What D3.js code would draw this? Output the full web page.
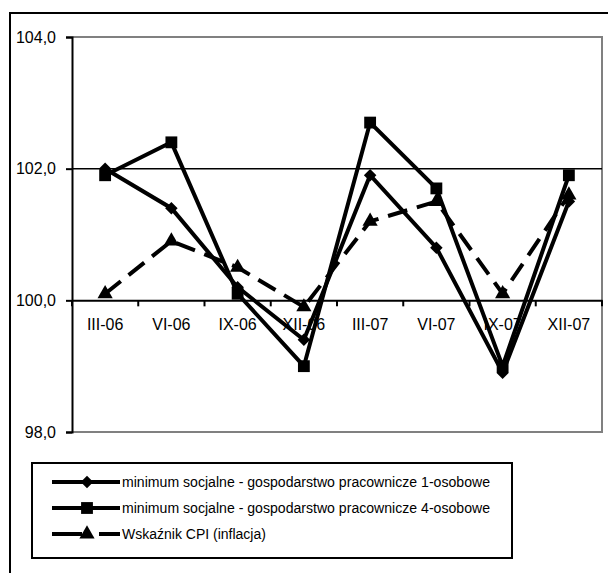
<!DOCTYPE html>
<html><head><meta charset="utf-8">
<script src="https://cdn.jsdelivr.net/npm/d3@7"></script>
<style>body{margin:0;background:#fff}svg{display:block}text{font-family:"Liberation Sans",Arial,sans-serif}</style>
</head><body>
<svg id="c" width="608" height="573"></svg>
<script>
const categories = ["III-06","VI-06","IX-06","XII-06","III-07","VI-07","IX-07","XII-07"];
const seriesNames = ["minimum socjalne - gospodarstwo pracownicze 1-osobowe","minimum socjalne - gospodarstwo pracownicze 4-osobowe","Wskaźnik CPI (inflacja)"];
const s1 = [102.0,101.4,100.2,99.4,101.9,100.8,98.9,101.5];
const s2 = [101.9,102.4,100.1,99.0,102.7,101.7,99.0,101.9];
const cpi = [100.1,100.9,100.5,99.9,101.2,101.5,100.1,101.6];
const yTicks = [98,100,102,104];

const svg = d3.select("#c");
const L=72,R=602,T=37,B=432;
svg.append("rect").attr("x",10).attr("y",13).attr("width",620).attr("height",600).attr("fill","none").attr("stroke","#000").attr("stroke-width",2);

const x = d3.scaleBand().domain(categories).range([L,R]).padding(0);
const y = d3.scaleLinear().domain([98,104]).range([B,T]);

svg.append("path").attr("d",`M${L},${T}H${R}V${B}H${L}`).attr("fill","none").attr("stroke","#808080").attr("stroke-width",2);
svg.append("line").attr("x1",L).attr("x2",R).attr("y1",y(102)).attr("y2",y(102)).attr("stroke","#000").attr("stroke-width",1.5);

const ya = svg.append("g").attr("transform",`translate(${L},0)`).call(d3.axisLeft(y).tickValues(yTicks).tickSize(6).tickPadding(10).tickFormat(d=>d3.format(".1f")(d).replace(".",",")));
ya.select(".domain").attr("stroke","#000").attr("stroke-width",2);
ya.selectAll(".tick line").attr("stroke","#000").attr("stroke-width",2);
ya.selectAll("text").attr("font-size",16).attr("fill","#000").attr("font-family","Liberation Sans, Arial, sans-serif");

const xa = svg.append("g").attr("transform",`translate(0,${y(100)})`).call(d3.axisBottom(x).tickSize(0).tickPadding(18));
xa.select(".domain").attr("stroke","#000").attr("stroke-width",2);
xa.selectAll("text").attr("font-size",16).attr("fill","#000").attr("font-family","Liberation Sans, Arial, sans-serif");
const bounds = categories.map(c=>x(c)).concat([R]);
svg.append("g").selectAll("line").data(bounds).join("line")
  .attr("x1",d=>d).attr("x2",d=>d).attr("y1",y(100)).attr("y2",y(100)+6).attr("stroke","#000").attr("stroke-width",2);

const cx = c => x(c)+x.bandwidth()/2;
const line = d3.line().x((d,i)=>cx(categories[i])).y(d=>y(d));
const sym = {
  diamond: d3.symbol().type(d3.symbolDiamond2).size(100),
  square: d3.symbol().type(d3.symbolSquare).size(140),
  triangle: d3.symbol().type(d3.symbolTriangle).size(100)
};
const series = [
  {vals:s1, dash:null, sym:sym.diamond},
  {vals:s2, dash:null, sym:sym.square},
  {vals:cpi, dash:"20,10", sym:sym.triangle}
];
[series[2],series[0],series[1]].forEach(s=>{
  svg.append("path").datum(s.vals).attr("d",line).attr("fill","none").attr("stroke","#000").attr("stroke-width",4)
    .attr("stroke-dasharray",s.dash);
  svg.append("g").selectAll("path").data(s.vals).join("path")
    .attr("d",s.sym).attr("fill","#000")
    .attr("transform",(d,i)=>`translate(${cx(categories[i])},${y(d)})`);
});

const lg = svg.append("g");
lg.append("rect").attr("x",32).attr("y",463).attr("width",480).attr("height",95).attr("fill","#fff").attr("stroke","#000").attr("stroke-width",2);
const ly = [482,508,534];
series.forEach((s,i)=>{
  if(s.dash){
    lg.append("line").attr("x1",52).attr("x2",82).attr("y1",ly[i]).attr("y2",ly[i]).attr("stroke","#000").attr("stroke-width",4);
    lg.append("line").attr("x1",99).attr("x2",120).attr("y1",ly[i]).attr("y2",ly[i]).attr("stroke","#000").attr("stroke-width",4);
  } else {
    lg.append("line").attr("x1",52).attr("x2",120).attr("y1",ly[i]).attr("y2",ly[i]).attr("stroke","#000").attr("stroke-width",4);
  }
  lg.append("path").attr("d",s.sym).attr("fill","#000").attr("transform",`translate(87,${ly[i]})`);
  lg.append("text").attr("x",122).attr("y",ly[i]).attr("dy","0.35em").attr("font-size",14).attr("fill","#000")
    .attr("textLength",368).attr("lengthAdjust","spacingAndGlyphs").text(seriesNames[i]);
});
lg.selectAll("text").filter((d,i)=>i===2).attr("textLength",null).attr("lengthAdjust",null);
</script>
</body></html>
